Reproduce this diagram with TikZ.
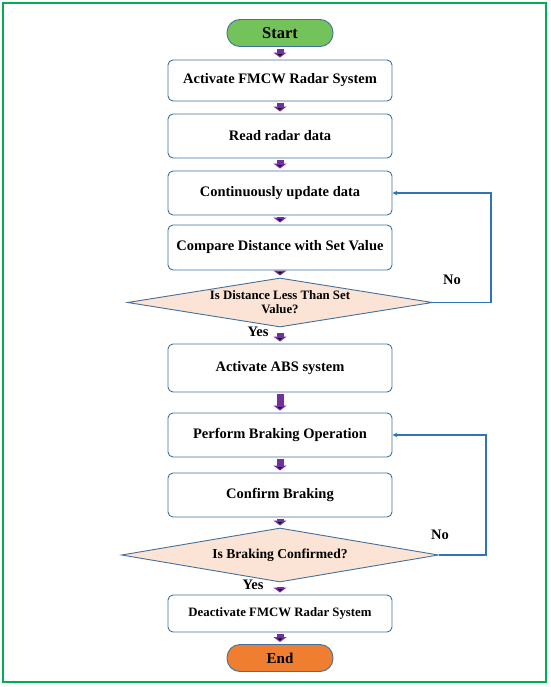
\documentclass[tikz,border=0pt]{standalone}
\usepackage{fontspec}
\setmainfont{Liberation Serif}
\usetikzlibrary{shapes.geometric,arrows.meta}

\definecolor{boxblue}{HTML}{41719C}
\definecolor{loopblue}{HTML}{2E75B6}
\definecolor{flowpurple}{HTML}{7030A0}
\definecolor{startgreen}{HTML}{74C35A}
\definecolor{endorange}{HTML}{F07E31}
\definecolor{peach}{HTML}{FBE3D5}
\definecolor{framegreen}{HTML}{00B050}

\begin{document}
\begin{tikzpicture}[x=1pt,y=-1pt,node distance=55pt,
    box node/.style={draw=boxblue,line width=0.9pt,rounded corners=5pt,fill=white,minimum width=224pt,minimum height=44pt,align=center,font=\bfseries\fontsize{14.5}{16}\selectfont},
    decision node/.style={diamond,draw=boxblue,line width=0.9pt,fill=peach,inner sep=0pt},
    decision text/.style={align=center,inner sep=0pt,font=\bfseries\fontsize{12.8}{14}\selectfont},
    term node/.style={draw=boxblue,line width=0.9pt,rounded corners=13pt,minimum width=106pt,minimum height=27pt,font=\bfseries\fontsize{15}{17}\selectfont},
    flow arrow/.style={-{Triangle[width=13pt,length=5pt]},line width=7pt,draw=flowpurple,shorten <=2pt,shorten >=2pt},
    loop line/.style={-{Stealth[length=5pt,width=4.5pt]},draw=loopblue,line width=1.1pt},
    side label/.style={font=\bfseries\fontsize{14.5}{16}\selectfont}]

    \useasboundingbox (0,0) rectangle (550,687);
    \draw[framegreen,line width=2pt] (3,3) rectangle (546,682);

    \node[term node,fill=startgreen,font=\bfseries\fontsize{16.5}{18}\selectfont] (start) at (280,33) {Start};
    \node[box node,minimum height=41pt] (activate) [below of = start, node distance=47.5pt] {Activate FMCW Radar System};
    \node[box node] (read) [below of = activate, node distance=55.5pt] {Read radar data};
    \node[box node] (update) [below of = read, node distance=57pt] {Continuously update data};
    \node[box node,minimum height=45pt] (compare) [below of = update, node distance=54.5pt] {Compare Distance with Set Value};
    \node[decision node,minimum width=305pt,minimum height=49pt,
          label={[decision text]center:Is Distance Less Than Set\\Value?}] (distok) [below of = compare, node distance=55pt] {};
    \node[box node,minimum height=48pt] (abs) [below of = distok, node distance=65.5pt] {Activate ABS system};
    \node[box node] (brake) [below of = abs, node distance=67pt] {Perform Braking Operation};
    \node[box node] (confirm) [below of = brake, node distance=60pt] {Confirm Braking};
    \node[decision node,minimum width=317pt,minimum height=54pt,
          label={[decision text,font=\bfseries\fontsize{13.6}{15}\selectfont]center:Is Braking Confirmed?}] (brakeok) [below of = confirm, node distance=60pt] {};
    \node[box node,minimum height=37pt,font=\bfseries\fontsize{12.8}{14}\selectfont] (deactivate) [below of = brakeok, node distance=58.5pt] {Deactivate FMCW Radar System};
    \node[term node,fill=endorange] (end) [below of = deactivate, node distance=44.5pt] {End};

    \node[side label] (no1) at (452,280) {No};
    \node[side label] (yes1) at (258,332) {Yes};
    \node[side label] (no2) at (440,535) {No};
    \node[side label] (yes2) at (253,585) {Yes};

    \path[flow arrow]
        (start) edge (activate)
        (activate) edge (read)
        (read) edge (update)
        (update) edge (compare)
        (compare) edge (distok)
        (distok) edge[shorten <=6pt] (abs)
        (abs) edge (brake)
        (brake) edge (confirm)
        (confirm) edge (brakeok)
        (brakeok) edge[shorten <=5pt] (deactivate)
        (deactivate) edge (end)
    ;

    \draw[loop line] (distok.east) -- ++(58,0) |- (update.east);
    \draw[loop line] (brakeok.east) -- ++(47,0) |- (brake.east);
\end{tikzpicture}
\end{document}
